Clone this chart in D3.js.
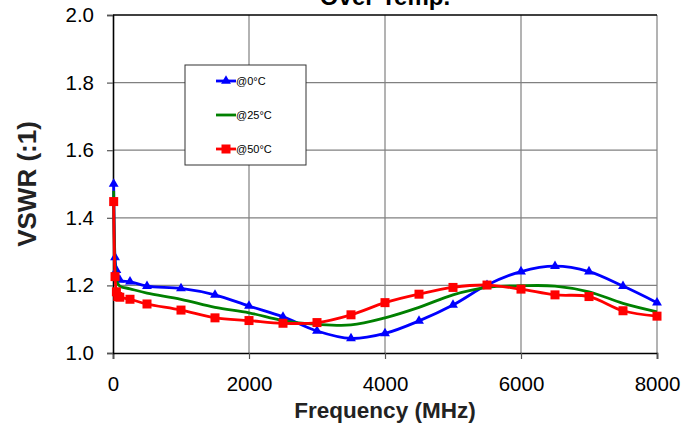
<!DOCTYPE html>
<html>
<head>
<meta charset="utf-8">
<script src="https://cdn.jsdelivr.net/npm/d3@7"></script>
<style>
  body { margin: 0; background: #fff; }
  text { font-family: "Liberation Sans", Arial, sans-serif; }
</style>
</head>
<body>
<div id="chart"></div>
<script>
const width = 696;
const height = 429;
const margin = ({top: 15, right: 39, bottom: 76, left: 113});

// frequency (MHz), VSWR
const cold = [
  [10, 1.50], [30, 1.283], [50, 1.245], [100, 1.216], [250, 1.211], [500, 1.198],
  [1000, 1.191], [1500, 1.172], [2000, 1.139], [2500, 1.107], [3000, 1.065],
  [3500, 1.043], [4000, 1.058], [4500, 1.095], [5000, 1.142], [5500, 1.201],
  [6000, 1.241], [6500, 1.257], [7000, 1.241], [7500, 1.198], [8000, 1.149]
];
const room = [
  [10, 1.48], [30, 1.26], [50, 1.215], [100, 1.198], [250, 1.19], [500, 1.177],
  [1000, 1.159], [1500, 1.135], [2000, 1.119], [2500, 1.096], [3000, 1.085],
  [3500, 1.083], [4000, 1.104], [4500, 1.135], [5000, 1.172], [5500, 1.194],
  [6000, 1.199], [6500, 1.198], [7000, 1.181], [7500, 1.147], [8000, 1.122]
];
const hot = [
  [10, 1.448], [30, 1.226], [50, 1.181], [70, 1.167], [100, 1.165], [250, 1.159],
  [500, 1.145], [1000, 1.127], [1500, 1.104], [2000, 1.096], [2500, 1.088],
  [3000, 1.090], [3500, 1.113], [4000, 1.149], [4500, 1.174], [5000, 1.194],
  [5500, 1.201], [6000, 1.189], [6500, 1.172], [7000, 1.167], [7500, 1.125],
  [8000, 1.109]
];
const seriesNames = ["@0°C", "@25°C", "@50°C"];
const xTicks = [0, 2000, 4000, 6000, 8000];
const yTicks = [1.0, 1.2, 1.4, 1.6, 1.8, 2.0];

const series = [
  {name: seriesNames[0], values: cold, color: "#0000ff", marker: "triangle"},
  {name: seriesNames[1], values: room, color: "#008000", marker: null},
  {name: seriesNames[2], values: hot, color: "#ff0000", marker: "square"}
];

const svg = d3.select("#chart")
  .append("svg")
  .attr("width", width)
  .attr("height", height);

const x = d3.scaleLinear()
  .domain([0, 8000])
  .range([margin.left, width - margin.right]);

const y = d3.scaleLinear()
  .domain([1.0, 2.0])
  .range([height - margin.bottom, margin.top]);

// gridlines
svg.append("g")
  .selectAll("line.vgrid")
  .data(xTicks.slice(1))
  .join("line")
  .attr("x1", d => x(d)).attr("x2", d => x(d))
  .attr("y1", y(2.0)).attr("y2", y(1.0))
  .attr("stroke", "#808080")
  .attr("stroke-width", 1.2);

svg.append("g")
  .selectAll("line.hgrid")
  .data(yTicks.slice(1))
  .join("line")
  .attr("x1", x(0)).attr("x2", x(8000))
  .attr("y1", d => y(d)).attr("y2", d => y(d))
  .attr("stroke", d => d === 2.0 ? "#000" : "#808080")
  .attr("stroke-width", d => d === 2.0 ? 1.5 : 1.2);

// axes
const xAxis = g => g
  .attr("transform", `translate(0,${y(1.0)})`)
  .call(d3.axisBottom(x).tickValues(xTicks).tickFormat(d3.format("d")).tickSizeOuter(0).tickSize(6).tickPadding(17))
  .call(g => g.select(".domain").attr("stroke", "#000").attr("stroke-width", 1.6))
  .call(g => g.selectAll(".tick line").attr("stroke", "#555").attr("stroke-width", 1.2))
  .call(g => g.selectAll(".tick text").attr("font-size", 20.5).attr("fill", "#000")
    .attr("font-family", "Liberation Sans, Arial, sans-serif"));

const yAxis = g => g
  .attr("transform", `translate(${x(0)},0)`)
  .call(d3.axisLeft(y).tickValues(yTicks).tickFormat(d3.format(".1f")).tickSizeOuter(0).tickSize(6).tickPadding(13))
  .call(g => g.select(".domain").attr("stroke", "#000").attr("stroke-width", 1.6))
  .call(g => g.selectAll(".tick line").attr("stroke", "#555").attr("stroke-width", 1.2))
  .call(g => g.selectAll(".tick text").attr("font-size", 20.5).attr("fill", "#000")
    .attr("font-family", "Liberation Sans, Arial, sans-serif"));

svg.append("g").call(xAxis);
svg.append("g").call(yAxis);

// lines
const line = d3.line()
  .x(d => x(d[0]))
  .y(d => y(d[1]))
  .curve(d3.curveCatmullRom.alpha(0.5));

const triangle = d3.symbol().type(d3.symbolTriangle).size(42);

series.forEach(s => {
  svg.append("path")
    .datum(s.values)
    .attr("fill", "none")
    .attr("stroke", s.color)
    .attr("stroke-width", 2.8)
    .attr("d", line);

  if (s.marker === "triangle") {
    svg.append("g")
      .selectAll("path")
      .data(s.values)
      .join("path")
      .attr("transform", d => `translate(${x(d[0])},${y(d[1])})`)
      .attr("d", triangle)
      .attr("fill", s.color);
  } else if (s.marker === "square") {
    svg.append("g")
      .selectAll("rect")
      .data(s.values)
      .join("rect")
      .attr("x", d => x(d[0]) - 4.5)
      .attr("y", d => y(d[1]) - 4.5)
      .attr("width", 9)
      .attr("height", 9)
      .attr("fill", s.color);
  }
});

// legend
const legend = svg.append("g").attr("transform", "translate(185,65)");
legend.append("rect")
  .attr("width", 121).attr("height", 100)
  .attr("fill", "#fff").attr("stroke", "#333").attr("stroke-width", 1);

series.forEach((s, i) => {
  const ly = 16 + i * 34;
  legend.append("line")
    .attr("x1", 31).attr("x2", 51)
    .attr("y1", ly).attr("y2", ly)
    .attr("stroke", s.color).attr("stroke-width", 2.8);
  if (s.marker === "triangle") {
    legend.append("path")
      .attr("transform", `translate(41,${ly})`)
      .attr("d", triangle)
      .attr("fill", s.color);
  } else if (s.marker === "square") {
    legend.append("rect")
      .attr("x", 36.5).attr("y", ly - 4.5)
      .attr("width", 9).attr("height", 9)
      .attr("fill", s.color);
  }
  legend.append("text")
    .attr("x", 51).attr("y", ly)
    .attr("dy", "0.35em")
    .attr("font-size", 11)
    .text(s.name);
});

// titles
svg.append("text")
  .attr("x", (x(0) + x(8000)) / 2)
  .attr("y", 5)
  .attr("text-anchor", "middle")
  .attr("font-size", 24)
  .attr("font-weight", "bold")
  .text("Over Temp.");

svg.append("text")
  .attr("x", (x(0) + x(8000)) / 2)
  .attr("y", 418)
  .attr("text-anchor", "middle")
  .attr("font-size", 22.5)
  .attr("font-weight", "bold")
  .attr("fill", "#222")
  .text("Frequency (MHz)");

svg.append("text")
  .attr("transform", `translate(36,${(y(1.0) + y(2.0)) / 2}) rotate(-90)`)
  .attr("text-anchor", "middle")
  .attr("font-size", 26)
  .attr("font-weight", "bold")
  .attr("fill", "#222")
  .text("VSWR (:1)");
</script>
</body>
</html>
